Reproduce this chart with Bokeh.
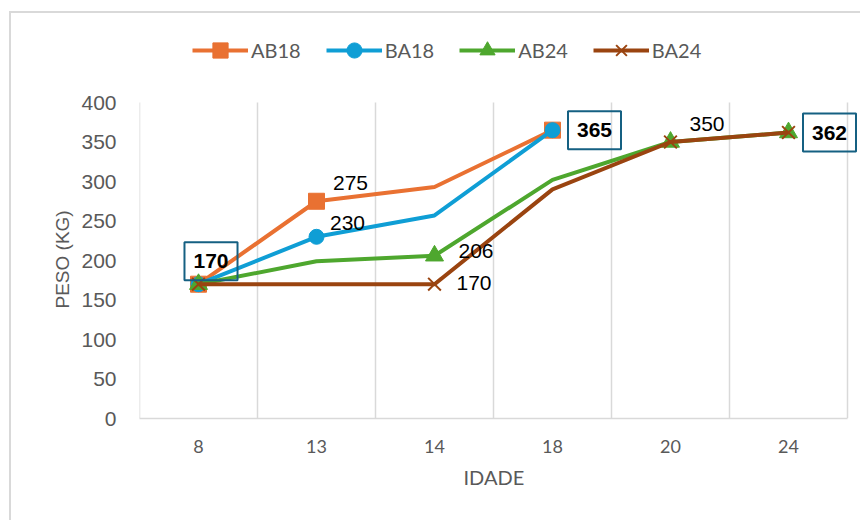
from bokeh.plotting import figure
from bokeh.models import (Range1d, FixedTicker, Legend, LegendItem, Label, Title)
from bokeh.embed import file_html
from bokeh.resources import INLINE

# Age categories (x axis) and weight series (kg)
idade = ["8", "13", "14", "18", "20", "24"]
ab18 = [170, 275, 293, 365]
ba18 = [170, 230, 257, 365]
ab24 = [170, 199, 206, 302, 350, 362]
ba24 = [170, 170, 170, 290, 350, 362]
y_ticks = [0, 50, 100, 150, 200, 250, 300, 350, 400]

GRID = "#D9D9D9"
TXT = "#595959"
BOX = "#156082"

n = len(idade)
pos = list(range(n))            # category i is drawn at x = i
y_top = y_ticks[-1]

# Frame spans the whole drawing area so the legend and the data labels
# outside the 0-400 band are not clipped; grid/axis are bounded instead.
p = figure(width=851, height=509,
           x_range=Range1d(-0.5, -0.5 + 723 / 118),
           y_range=Range1d(0, 405 / 0.79),
           output_backend="svg", toolbar_location=None,
           min_border_left=128, min_border_right=0,
           min_border_top=0, min_border_bottom=104,
           styles={"margin-left": "9px", "margin-top": "11px",
                   "border-left": "2px solid #D9D9D9",
                   "border-top": "2px solid #D9D9D9"})
p.outline_line_color = None
p.background_fill_color = "white"
p.border_fill_color = "white"
p.xgrid.grid_line_color = None
p.ygrid.grid_line_color = None

# vertical grid lines between categories, limited to the 0-400 band
bounds_x = [i - 0.5 for i in range(n + 1)]
p.segment(x0=bounds_x, y0=[0] * len(bounds_x), x1=bounds_x,
          y1=[y_top] * len(bounds_x), line_color=GRID, line_width=1.5,
          level="underlay")

p.yaxis.ticker = FixedTicker(ticks=y_ticks)
p.yaxis.bounds = (0, y_top)
p.yaxis.axis_line_color = None
p.yaxis.major_tick_line_color = None
p.yaxis.minor_tick_line_color = None
p.yaxis.major_label_standoff = 17
p.yaxis.major_label_text_font = "Liberation Sans"
p.yaxis.major_label_text_font_size = "21px"
p.yaxis.major_label_text_color = TXT

p.xaxis.ticker = FixedTicker(ticks=pos)
p.xaxis.major_label_overrides = {i: c for i, c in zip(pos, idade)}
p.xaxis.bounds = (-0.5, n - 0.5)
p.xaxis.axis_line_color = GRID
p.xaxis.axis_line_width = 1.5
p.xaxis.major_tick_line_color = None
p.xaxis.minor_tick_line_color = None
p.xaxis.major_label_standoff = 15
p.xaxis.major_label_text_font = "Lato"
p.xaxis.major_label_text_font_size = "18px"
p.xaxis.major_label_text_color = TXT

# axis titles, placed along the 0-400 / category band rather than the frame
p.add_layout(Title(text="PESO (KG)", align="left", offset=110,
                   text_font="Liberation Sans", text_font_size="19px",
                   text_font_style="normal", text_color=TXT, standoff=12), "left")
p.add_layout(Title(text="IDADE", align="left", offset=324,
                   text_font="Lato", text_font_size="20px",
                   text_font_style="normal", text_color=TXT, standoff=14), "below")

series = [
    ("AB18", ab18, "#E97132", "square", 16, [0, 1, 3]),
    ("BA18", ba18, "#0F9ED5", "circle", 15, [0, 1, 3]),
    ("AB24", ab24, "#4EA72E", "triangle", 18, [0, 2, 4, 5]),
    ("BA24", ba24, "#9A4410", "x", 18, [0, 2, 4, 5]),
]

items = []
for name, vals, color, marker, size, idx in series:
    xs = pos[:len(vals)]
    ln = p.line(x=xs, y=vals, line_color=color, line_width=4, line_join="round")
    mx = [xs[i] for i in idx]
    my = [vals[i] for i in idx]
    if marker == "x":
        sc = p.scatter(x=mx, y=my, marker=marker, size=size,
                       line_color=color, line_width=2)
    else:
        sc = p.scatter(x=mx, y=my, marker=marker, size=size,
                       fill_color=color, line_color=color)
    items.append(LegendItem(label=name, renderers=[ln, sc]))

legend = Legend(items=items, orientation="horizontal", location=(53, 349),
                padding=0, margin=0, spacing=25, glyph_width=56, glyph_height=38,
                label_standoff=3, label_width=49, label_height=38,
                label_text_font="Lato", label_text_font_size="20px",
                label_text_color=TXT, border_line_color=None,
                background_fill_alpha=0)
p.add_layout(legend)

# data labels: (series values, category index, x offset, y offset, boxed)
label_specs = [
    (ab18, 0, 12.5, 23, True),
    (ab18, 1, 34, 18, False),
    (ba18, 1, 31, 14, False),
    (ab24, 2, 41.5, 5, False),
    (ba24, 2, 39.5, 1, False),
    (ab18, 3, 42, 0, True),
    (ba24, 4, 36.5, 18, False),
    (ba24, 5, 41, 0, True),
]
for vals, i, dx, dy, boxed in label_specs:
    kw = dict(x=pos[i], y=vals[i], text=str(vals[i]), x_offset=dx, y_offset=dy,
              text_align="center", text_baseline="middle",
              text_font="Liberation Sans", text_font_size="21px",
              text_color="black")
    if boxed:
        kw.update(text_font_style="bold", border_line_color=BOX,
                  border_line_width=2,
                  padding=dict(left=9, right=9, top=12, bottom=12))
    p.add_layout(Label(**kw))

open("out.html", "w").write(file_html(p, INLINE))
